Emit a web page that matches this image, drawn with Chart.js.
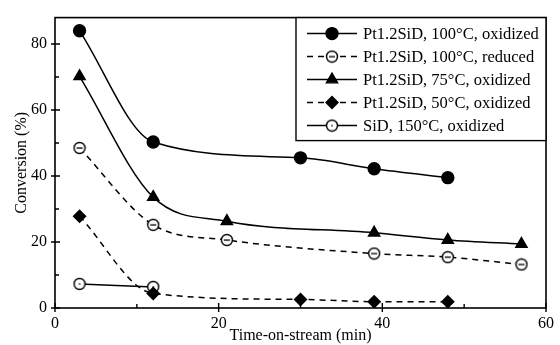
<!DOCTYPE html>
<html>
<head>
<meta charset="utf-8">
<script src="https://cdn.jsdelivr.net/npm/chart.js@4/dist/chart.umd.min.js"></script>
<style>
  html, body { margin: 0; padding: 0; background: #fff; }
  #wrap { width: 560px; height: 345px; }
</style>
</head>
<body>
<div id="wrap"><canvas id="chart" width="560" height="345"></canvas></div>
<script>
// values
const labels = [
    'Pt1.2SiD, 100\u00B0C, oxidized',
    'Pt1.2SiD, 100\u00B0C, reduced',
    'Pt1.2SiD, 75\u00B0C, oxidized',
    'Pt1.2SiD, 50\u00B0C, oxidized',
    'SiD, 150\u00B0C, oxidized'
];
const time100ox = [3, 12, 30, 39, 48];
const conv100ox = [84, 50.3, 45.5, 42.2, 39.5];
const time100red = [3, 12, 21, 39, 48, 57];
const conv100red = [48.5, 25.2, 20.6, 16.5, 15.4, 13.2];
const time75ox = [3, 12, 21, 39, 48, 57];
const conv75ox = [70.2, 33.6, 26.3, 22.8, 20.6, 19.4];
const time50ox = [3, 12, 30, 39, 48];
const conv50ox = [27.8, 4.4, 2.6, 1.9, 1.9];
const timeSiD = [3, 12];
const convSiD = [7.3, 6.4];
const xTicks = [0, 20, 40, 60];
const yTicks = [0, 20, 40, 60, 80];

const serif = 'Liberation Serif';

function pts(xs, ys) { return xs.map((x, i) => ({ x, y: ys[i] })); }

// circle markers with a mark inside (minus / dot)
function ringMarker(inner) {
    const c = document.createElement('canvas');
    c.width = 14; c.height = 14;
    const g = c.getContext('2d');
    g.fillStyle = '#fff';
    g.strokeStyle = '#000';
    g.lineWidth = 1.4;
    g.beginPath(); g.arc(7, 7, 5.5, 0, Math.PI * 2); g.fill(); g.stroke();
    g.fillStyle = '#000';
    if (inner === 'minus') g.fillRect(4, 6.4, 6, 1.3);
    if (inner === 'dot') g.fillRect(6.3, 6.3, 1.4, 1.4);
    return c;
}
const ringMinus = ringMarker('minus');
const ringDot = ringMarker('dot');

function series(label, data, style, radius, dashed, filled) {
    return {
        label, data,
        showLine: true,
        borderColor: '#000',
        backgroundColor: filled ? '#000' : '#fff',
        borderWidth: 1.5,
        borderDash: dashed ? [6, 5] : [],
        pointStyle: style,
        pointRadius: radius,
        pointHoverRadius: radius,
        pointBorderWidth: 1.4,
        pointBorderColor: '#000',
        pointBackgroundColor: filled ? '#000' : '#fff',
        cubicInterpolationMode: 'monotone'
    };
}

const datasets = [
    series(labels[0], pts(time100ox, conv100ox), 'circle', 6, false, true),
    series(labels[1], pts(time100red, conv100red), ringMinus, 6, true, false),
    series(labels[2], pts(time75ox, conv75ox), 'triangle', 6.5, false, true),
    series(labels[3], pts(time50ox, conv50ox), 'rectRot', 6, true, true),
    series(labels[4], pts(timeSiD, convSiD), ringDot, 6, false, false)
];

// frame, inward ticks and the boxed legend
const framePlugin = {
    id: 'frame',
    afterDatasetsDraw(chart) {
        const { ctx, chartArea: a, scales } = chart;
        ctx.save();
        ctx.strokeStyle = '#000';
        ctx.lineWidth = 1.6;
        ctx.strokeRect(a.left, a.top, a.right - a.left, a.bottom - a.top);

        ctx.lineWidth = 1.4;
        ctx.beginPath();
        for (let v = 0; v <= 60; v += 10) {
            const px = scales.x.getPixelForValue(v);
            const major = v % 20 === 0;
            ctx.moveTo(px, a.bottom + (major ? 4 : 0));
            ctx.lineTo(px, a.bottom - (major ? 5 : 4));
        }
        for (let v = 0; v <= 80; v += 10) {
            const py = scales.y.getPixelForValue(v);
            const major = v % 20 === 0;
            ctx.moveTo(a.left - (major ? 4 : 0), py);
            ctx.lineTo(a.left + (major ? 5 : 4), py);
        }
        ctx.stroke();

        // legend
        const bx = 296, by = a.top, bw = a.right - 296, bh = 123;
        ctx.fillStyle = '#fff';
        ctx.fillRect(bx, by, bw, bh);
        ctx.lineWidth = 1.4;
        ctx.strokeRect(bx, by, bw, bh);
        ctx.font = '16.5px "' + serif + '"';
        ctx.textBaseline = 'middle';
        chart.data.datasets.forEach((ds, i) => {
            const y = by + 16 + i * 23;
            ctx.strokeStyle = '#000';
            ctx.lineWidth = 1.5;
            ctx.setLineDash(ds.borderDash);
            ctx.beginPath();
            ctx.moveTo(307, y);
            ctx.lineTo(357, y);
            ctx.stroke();
            ctx.setLineDash([]);
            ctx.fillStyle = ds.pointBackgroundColor;
            ctx.lineWidth = 1.4;
            Chart.helpers.drawPoint(ctx, {
                pointStyle: ds.pointStyle,
                radius: ds.pointRadius,
                rotation: 0,
                borderWidth: 1.4
            }, 332, y);
            ctx.fillStyle = '#000';
            ctx.fillText(ds.label, 363, y + 1);
        });
        ctx.restore();
    }
};

new Chart(document.getElementById('chart'), {
    type: 'scatter',
    data: { datasets },
    plugins: [framePlugin],
    options: {
        responsive: false,
        animation: false,
        layout: { padding: { top: 14, right: 11, left: 0, bottom: 0 } },
        plugins: { legend: { display: false }, tooltip: { enabled: false } },
        scales: {
            x: {
                type: 'linear', min: 0, max: 60,
                afterBuildTicks: s => { s.ticks = xTicks.map(v => ({ value: v })); },
                afterFit: s => { s.height = 37; },
                grid: { display: false, drawTicks: false },
                border: { display: false },
                ticks: { color: '#000', padding: 6, maxRotation: 0, font: { family: serif, size: 16 } },
                title: { display: true, text: 'Time-on-stream (min)', color: '#000', padding: 0, font: { family: serif, size: 16 } }
            },
            y: {
                type: 'linear', min: 0, max: 88,
                afterBuildTicks: s => { s.ticks = yTicks.map(v => ({ value: v })); },
                afterFit: s => { s.width = 55; },
                grid: { display: false, drawTicks: false },
                border: { display: false },
                ticks: { color: '#000', padding: 8, font: { family: serif, size: 16 } },
                title: { display: true, text: 'Conversion (%)', color: '#000', padding: { top: 12, bottom: 0 }, font: { family: serif, size: 16 } }
            }
        }
    }
});
</script>
</body>
</html>
